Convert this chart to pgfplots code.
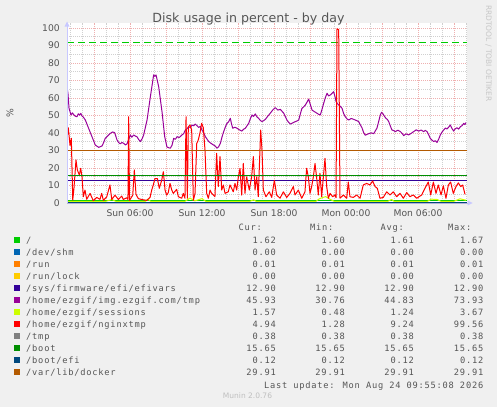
\documentclass[border=0pt]{standalone}
\usepackage{pgfplots}
\pgfplotsset{compat=1.18}
\usepackage{fontspec}
\setmainfont{DejaVu Sans}
\newfontfamily\lgd[LetterSpace=9]{DejaVu Sans Mono}
\definecolor{bgc}{HTML}{F0F0F0}
\definecolor{txt}{HTML}{555555}
\definecolor{mgrid}{HTML}{EFB0B0}
\definecolor{ngrid}{HTML}{D0D0D0}
\definecolor{axc}{HTML}{C8C8FF}
\definecolor{cA}{HTML}{00CC00}
\definecolor{cB}{HTML}{0066B3}
\definecolor{cC}{HTML}{FF8000}
\definecolor{cD}{HTML}{FFCC00}
\definecolor{cE}{HTML}{330099}
\definecolor{cF}{HTML}{990099}
\definecolor{cG}{HTML}{CCFF00}
\definecolor{cH}{HTML}{FF0000}
\definecolor{cI}{HTML}{808080}
\definecolor{cJ}{HTML}{008F00}
\definecolor{cK}{HTML}{00487D}
\definecolor{cL}{HTML}{B35A00}
\newcommand\legrow[7]{%
  \fill[#2] (14,{237+12*(#1-1)}) rectangle ++(6,6);
  \node[anchor=base west] at (26,{243+12*(#1-1)}) {#3};
  \node[anchor=base east] at (276,{243+12*(#1-1)}) {#4};
  \node[anchor=base east] at (345,{243+12*(#1-1)}) {#5};
  \node[anchor=base east] at (414,{243+12*(#1-1)}) {#6};
  \node[anchor=base east] at (483.5,{243+12*(#1-1)}) {#7};
}
\begin{document}
\begin{tikzpicture}
\path[use as bounding box, fill=bgc] (0,0) rectangle (497bp,-407bp);
\begin{axis}[
  at={(67bp,-203bp)}, anchor=south west,
  scale only axis, width=400bp, height=180.25bp,
  xmin=0.75, xmax=34.0833, ymin=0, ymax=103,
  axis background/.style={fill=white},
  axis line style={draw=none},
  tick style={draw=none},
  xtick={3,6,...,33},
  xticklabels={,Sun 06:00,,Sun 12:00,,Sun 18:00,,Mon 00:00,,Mon 06:00,},
  minor xtick={1,2,4,5,7,8,10,11,13,14,16,17,19,20,22,23,25,26,28,29,31,32,34},
  ytick={0,10,...,100},
  minor ytick={5,15,...,95},
  grid=both,
  major grid style={draw=mgrid, line width=0.7bp, dash pattern=on 1bp off 1bp},
  minor grid style={draw=ngrid, line width=0.7bp, dash pattern=on 1bp off 1bp},
  tick label style={font=\fontsize{9.2bp}{11bp}\selectfont, text=txt, inner sep=0pt},
  xticklabel style={anchor=north, yshift=-6.3bp},
  yticklabel style={anchor=east, xshift=-7bp},
  /pgf/number format/assume math mode=true,
  every axis plot/.append style={line width=1bp, line join=round, mark=none},
]
\addplot[cA, dash pattern=on 7bp off 4bp] coordinates {(0.75,92) (34.0833,92)};
\addplot[cA] coordinates {(0.75,1.62) (34.0833,1.62)};
\addplot[cB] coordinates {(0.75,0) (34.0833,0)};
\addplot[cC] coordinates {(0.75,0.01) (34.0833,0.01)};
\addplot[cD] coordinates {(0.75,0) (34.0833,0)};
\addplot[cE] coordinates {(0.75,12.9) (34.0833,12.9)};
\addplot[cF] coordinates {
(0.75,66)(0.83,62.7)(0.92,54.1)(1.08,50.3)(1.2,51.5)(1.3,50.5)(1.45,49.6)(1.58,49.3)(1.7,51)(1.8,50.2)(1.9,51.2)(2.0,49.7)(2.1,49.2)(2.28,47.4)(2.55,42.7)(2.83,37.9)(3.11,33.1)(3.39,31.8)(3.67,32.6)(3.8,34.5)(3.94,37)(4.1,38)(4.36,39.8)(4.55,40.6)(4.72,40.2)(4.92,36)(5.05,34.6)(5.19,33.8)(5.33,34.6)(5.47,34.1)(5.62,33.2)(5.75,33.8)(5.9,36.5)(6.03,38.9)(6.15,37.6)(6.31,38.9)(6.45,38.2)(6.58,37.9)(6.72,36.3)(6.86,35.1)(7.0,36.6)(7.14,38.9)(7.42,47.4)(7.7,60.8)(7.97,73.2)(8.07,72.4)(8.17,73.2)(8.39,66.5)(8.67,52)(8.89,38)(9.08,32)(9.22,31.6)(9.36,31.3)(9.5,33)(9.64,36.9)(9.78,36.4)(9.92,37.9)(10.1,37.4)(10.33,38.9)(10.47,39.6)(10.61,41.7)(10.75,42.4)(10.89,43.6)(11.03,43.1)(11.17,44.6)(11.3,44.1)(11.44,45.1)(11.58,44.2)(11.72,43.2)(11.86,43.8)(12.0,41.7)(12.14,40.2)(12.28,37.9)(12.42,36.5)(12.56,35.1)(12.75,34.1)(12.97,33.1)(13.1,32.6)(13.25,31.3)(13.39,32.2)(13.53,34.1)(13.67,37.8)(13.81,40.8)(13.95,43.5)(14.08,45.5)(14.22,46.4)(14.36,48.4)(14.46,45.2)(14.56,42.7)(14.74,43.3)(14.92,42.7)(15.1,41.9)(15.33,41.1)(15.47,42.2)(15.61,42.7)(15.75,44.1)(15.89,45.5)(16.03,48.2)(16.17,50.3)(16.3,49.5)(16.44,50.9)(16.58,49.2)(16.72,48.4)(16.86,47.2)(17.0,46.5)(17.14,47.1)(17.28,47.8)(17.48,49.6)(17.69,51.3)(17.9,53.2)(18.11,54.5)(18.32,53.1)(18.53,53.5)(18.67,52.4)(18.81,51.3)(18.95,49.2)(19.08,47.4)(19.22,46.1)(19.36,45.1)(19.57,45.8)(19.78,46.5)(19.92,46.9)(20.06,47.4)(20.2,51)(20.33,54.1)(20.47,54.9)(20.61,56.0)(20.75,57.6)(20.89,59.4)(21.03,56.2)(21.17,53.1)(21.37,52.2)(21.58,51.3)(21.72,50.7)(21.86,50.3)(22.0,53.5)(22.14,57.0)(22.28,60.2)(22.42,62.7)(22.55,61.2)(22.69,61.7)(22.83,62.6)(22.97,63.6)(23.07,61.2)(23.17,58.0)(23.28,56.8)(23.39,56.0)(23.53,55.2)(23.67,54.1)(23.8,51.2)(23.94,49.3)(24.08,48.1)(24.22,47.4)(24.43,48.3)(24.64,47.8)(24.85,47.2)(25.06,46.5)(25.2,44.6)(25.33,43)(25.47,40.2)(25.61,38.7)(25.75,39.2)(25.89,39.6)(26.1,40.1)(26.31,39.6)(26.45,41.3)(26.58,42.8)(26.72,46.5)(26.86,50.3)(26.96,51.8)(27.06,51.2)(27.2,49.6)(27.33,48.4)(27.45,47.7)(27.56,46.5)(27.7,43.9)(27.83,41.7)(27.97,41.4)(28.11,40.8)(28.32,41.6)(28.53,40.8)(28.67,39.8)(28.81,38.5)(29.0,39.5)(29.22,38.9)(29.43,39.8)(29.64,40.8)(29.85,41.8)(30.06,41.1)(30.26,41.7)(30.47,40.8)(30.61,41.5)(30.75,40.8)(30.89,38.9)(31.03,36.9)(31.17,35.9)(31.31,35.1)(31.45,35.6)(31.58,34.6)(31.72,36.4)(31.86,38.9)(32.0,40.5)(32.14,41.7)(32.28,42.8)(32.42,42.3)(32.55,43.3)(32.69,44.6)(32.83,42.6)(32.97,41.1)(33.1,42.4)(33.25,43.0)(33.39,42.2)(33.53,43.6)(33.67,44.2)(33.81,45.5)(33.9,44.8)(34.0,45.93)};
\addplot[cG] coordinates {
(0.75,1.0)(4.0,1.0)(4.5,2.0)(4.8,1.0)(7.3,1.0)(7.5,2.2)(7.7,1.0)(10.6,1.0)(11.0,2.8)(11.4,1.2)(12.0,2.5)(12.3,1.0)(16.0,1.0)(16.3,1.8)(16.5,1.0)(21.5,1.0)(21.8,2.5)(22.3,3.67)(22.7,2.0)(23.0,1.0)(27.5,1.0)(27.8,2.0)(28.0,1.0)(30.8,1.0)(31.1,2.2)(31.6,2.0)(31.9,1.0)(33.0,1.0)(33.5,2.4)(34.0,1.57)};
\addplot[cH] coordinates {
(0.75,37)(0.86,43)(1.0,33)(1.11,37)(1.23,1.7)(1.33,8.4)(1.5,24.6)(1.61,18.9)(1.78,16)(1.89,19.8)(2.0,15)(2.11,3.6)(2.25,7.4)(2.39,2.1)(2.67,5.5)(2.94,1.3)(3.23,3.2)(3.5,2.1)(3.64,5.5)(3.78,1.5)(4.06,3.5)(4.33,10.3)(4.48,2)(4.75,4.5)(5.03,2)(5.31,4)(5.44,2)(5.73,3)(5.83,2)(5.89,49.3)(5.96,1.5)(6.23,4.5)(6.36,18.9)(6.5,5)(6.69,2.5)(6.98,2)(7.39,1.5)(7.67,3.2)(7.81,7.4)(7.94,10.3)(8.08,14)(8.28,14)(8.44,8.4)(8.64,13)(8.78,17.9)(8.92,7.4)(9.06,4.5)(9.19,6)(9.33,11.2)(9.48,7.4)(9.61,5.5)(9.89,7.8)(10.03,3.6)(10.31,2.7)(10.44,5.5)(10.58,2.7)(10.67,49.3)(10.78,2.7)(10.86,43.6)(11.0,44.6)(11.14,41.7)(11.28,1.5)(11.42,5.5)(11.56,34)(11.69,36)(11.83,40)(11.97,45.5)(12.11,43)(12.25,30.3)(12.39,5.5)(12.53,2.7)(12.67,7.4)(12.81,5.5)(13.08,3.6)(13.22,28.4)(13.36,9.4)(13.5,26.5)(13.64,7.4)(13.78,10.3)(13.92,5.5)(14.19,6.4)(14.33,10.3)(14.61,6.4)(14.75,11.2)(14.89,7.4)(15.03,15)(15.17,19.8)(15.31,4.5)(15.44,22.6)(15.58,5.5)(15.72,15)(15.94,7.4)(16.14,15)(16.28,26.5)(16.42,7.4)(16.56,15)(16.69,3.6)(16.89,41.7)(17.0,30.3)(17.11,7.4)(17.33,3.6)(17.61,6.4)(17.81,3.2)(18.03,13)(18.22,4.6)(18.5,2.7)(18.78,6.4)(19.06,3.2)(19.33,5.5)(19.61,9.4)(19.75,4.6)(20.03,7.4)(20.31,2.7)(20.58,6.4)(20.72,19.8)(20.86,15)(21.0,5.5)(21.14,9.4)(21.28,15)(21.42,22.6)(21.56,14)(21.69,4.6)(21.83,17)(21.97,3.6)(22.25,25.5)(22.39,9.4)(22.53,2.7)(22.67,5.5)(22.89,3.6)(23.08,4.6)(23.17,3)(23.25,99.56)(23.39,99)(23.5,2.7)(23.78,4.6)(24.06,2.7)(24.19,12)(24.33,3.6)(24.61,3.2)(24.89,4.6)(25.17,2.7)(25.44,10.3)(25.72,11.2)(26.0,10.3)(26.22,12.6)(26.42,9.4)(26.61,8.4)(26.83,2.7)(27.11,3.2)(27.39,6.4)(27.67,4.6)(27.94,6.4)(28.22,3.6)(28.5,5.5)(28.78,2.7)(29.06,6)(29.33,3.6)(29.61,4.6)(29.89,2.7)(30.31,4.6)(30.58,8.4)(30.86,12)(31.06,4.6)(31.28,12)(31.5,5.5)(31.69,10.3)(31.92,4.6)(32.11,9.8)(32.33,2.7)(32.53,10.3)(32.72,12)(32.94,5.5)(33.17,9.4)(33.36,11.5)(33.56,9.4)(33.72,10.3)(33.92,4.94)};
\addplot[cI] coordinates {(0.75,0.38) (34.0833,0.38)};
\addplot[cJ] coordinates {(0.75,15.65) (34.0833,15.65)};
\addplot[cK] coordinates {(0.75,0.12) (34.0833,0.12)};
\addplot[cL] coordinates {(0.75,29.91) (34.0833,29.91)};
\end{axis}
\begin{scope}[x=1bp,y=-1bp]
  \draw[axc, line width=1bp] (67,203.5) -- (67,26);
  \fill[axc] (64.5,26.5) -- (67,21.5) -- (69.5,26.5) -- cycle;
  \draw[axc!70!gray, line width=1bp] (66.5,203) -- (468,203);
  \fill[axc] (467.5,200.5) -- (472.5,203) -- (467.5,205.5) -- cycle;
  \node[text=txt, font=\fontsize{12.6bp}{14bp}\selectfont, inner sep=0pt] at (248.5,19) {Disk usage in percent - by day};
  \node[text=txt, font=\fontsize{9.2bp}{11bp}\selectfont, inner sep=0pt, rotate=90] at (10,113) {\%};
  \node[text=black!22, font=\fontsize{7.5bp}{9bp}\selectfont, inner sep=0pt, rotate=-90] at (488.5,53.5) {RRDTOOL / TOBI OETIKER};
  \node[text=black!25, font=\fontsize{7.5bp}{9bp}\selectfont, inner sep=0pt] at (247.5,396) {Munin 2.0.76};
  \begin{scope}[every node/.style={inner sep=0pt, text=txt, font=\lgd\fontsize{8.7bp}{10bp}\selectfont}]
    \node[anchor=base east] at (262,230.5) {Cur:};
    \node[anchor=base east] at (333.5,230.5) {Min:};
    \node[anchor=base east] at (404,230.5) {Avg:};
    \node[anchor=base east] at (471.5,230.5) {Max:};
    \legrow{1}{cA}{/}{1.62}{1.60}{1.61}{1.67}
    \legrow{2}{cB}{/dev/shm}{0.00}{0.00}{0.00}{0.00}
    \legrow{3}{cC}{/run}{0.01}{0.01}{0.01}{0.01}
    \legrow{4}{cD}{/run/lock}{0.00}{0.00}{0.00}{0.00}
    \legrow{5}{cE}{/sys/firmware/efi/efivars}{12.90}{12.90}{12.90}{12.90}
    \legrow{6}{cF}{/home/ezgif/img.ezgif.com/tmp}{45.93}{30.76}{44.83}{73.93}
    \legrow{7}{cG}{/home/ezgif/sessions}{1.57}{0.48}{1.24}{3.67}
    \legrow{8}{cH}{/home/ezgif/nginxtmp}{4.94}{1.28}{9.24}{99.56}
    \legrow{9}{cI}{/tmp}{0.38}{0.38}{0.38}{0.38}
    \legrow{10}{cJ}{/boot}{15.65}{15.65}{15.65}{15.65}
    \legrow{11}{cK}{/boot/efi}{0.12}{0.12}{0.12}{0.12}
    \legrow{12}{cL}{/var/lib/docker}{29.91}{29.91}{29.91}{29.91}
    \node[anchor=base east] at (483.5,388.3) {Last update: Mon Aug 24 09:55:08 2026};
  \end{scope}
\end{scope}
\end{tikzpicture}
\end{document}
